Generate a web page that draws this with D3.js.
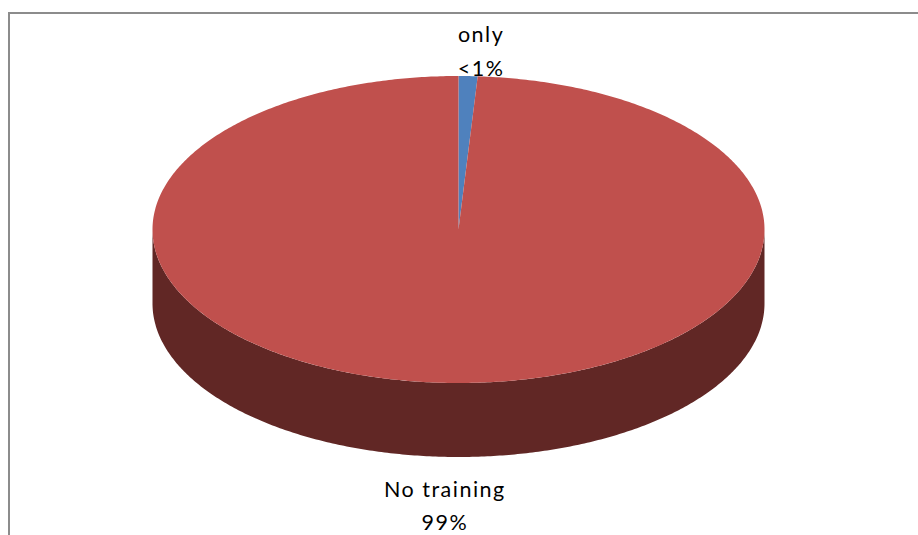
<!DOCTYPE html>
<html>
<head>
<meta charset="utf-8">
<script src="https://cdn.jsdelivr.net/npm/d3@7"></script>
<style>
  html, body { margin: 0; padding: 0; background: #fff; }
  svg { display: block; }
</style>
</head>
<body>
<svg id="chart" width="918" height="535"></svg>
<script>
// Chart data.
const categories = ["only", "No training"];
const values = [1, 99];
const valueLabels = ["<1%", "99%"];
const topColors = ["#4F81BD", "#C0504D"];
const sideColors = ["#2C4D75", "#612725"];

const svg = d3.select("#chart");

// Plot area frame (cut off on the right and bottom).
svg.append("path")
    .attr("d", "M9,540 L9,13 L930,13")
    .attr("fill", "none")
    .attr("stroke", "#8c8c8c")
    .attr("stroke-width", 2);

// Ellipse geometry of the tilted pie.
const cx = 458.5, cy = 229.5, rx = 306, ry = 153.5, depth = 74;

const slices = d3.pie().sort(null).value((d) => d)(values);

const pt = (a, dy = 0) => [cx + rx * Math.sin(a), cy - ry * Math.cos(a) + dy];

function arcPoints(a0, a1, dy) {
    const n = Math.max(2, Math.ceil(Math.abs(a1 - a0) / 0.01));
    return d3.range(n + 1).map((i) => pt(a0 + (a1 - a0) * i / n, dy));
}

const line = d3.line();

// Side walls: only the front half (angles between PI/2 and 3PI/2) is visible.
const sideGroup = svg.append("g");
slices.forEach((s, i) => {

    const a0 = Math.max(s.startAngle, Math.PI / 2);
    const a1 = Math.min(s.endAngle, Math.PI * 3 / 2);
    if (a1 <= a0) {

        return;
    }
    const pts = arcPoints(a0, a1, 0).concat(arcPoints(a1, a0, depth));
    sideGroup.append("path")
        .attr("d", line(pts) + "Z")
        .attr("fill", sideColors[i]);
});

// Top faces.
const topGroup = svg.append("g");
slices.forEach((s, i) => {

    const pts = [[cx, cy]].concat(arcPoints(s.startAngle, s.endAngle, 0));
    topGroup.append("path")
        .attr("d", line(pts) + "Z")
        .attr("fill", topColors[i]);
});

// Outside-end labels.
const labelGroup = svg.append("g")
    .style("font-family", "Lato, 'Open Sans', sans-serif")
    .style("font-size", "21.5px")
    .style("letter-spacing", "1.5px")
    .attr("fill", "#000");

slices.forEach((s, i) => {

    const mid = (s.startAngle + s.endAngle) / 2;
    const [x, y] = pt(mid);
    const front = Math.cos(mid) < 0;
    const tx = x + (front ? -4 : 13);
    const ty = front ? y + depth + 40 : y - 34;
    const text = labelGroup.append("text")
        .attr("text-anchor", "middle")
        .attr("x", tx)
        .attr("y", ty);
    text.append("tspan").attr("x", tx).attr("dy", 0).text(categories[i]);
    text.append("tspan").attr("x", tx).attr("dy", 33.5).text(valueLabels[i]);
});
</script>
</body>
</html>
